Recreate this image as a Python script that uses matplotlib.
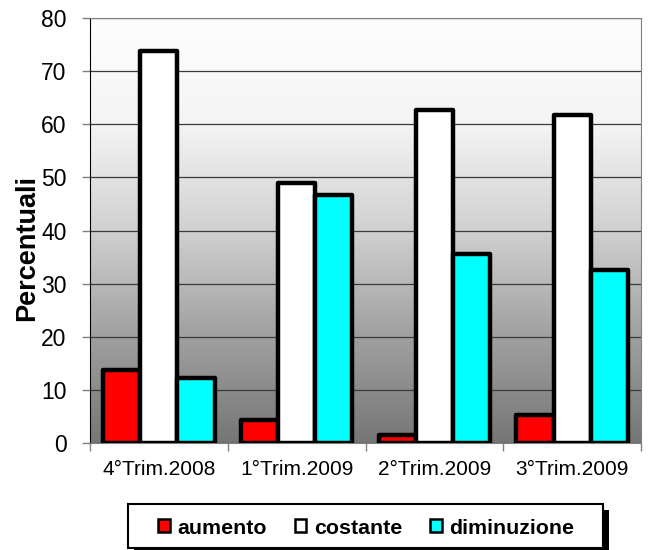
import numpy as np
import matplotlib
matplotlib.use("Agg")
import matplotlib.pyplot as plt
from matplotlib.patches import Patch, Rectangle
from matplotlib.colors import LinearSegmentedColormap

plt.rcParams['font.family'] = ['Liberation Sans', 'DejaVu Sans']

categories = ["4°Trim.2008", "1°Trim.2009", "2°Trim.2009", "3°Trim.2009"]
aumento = [13.7, 4.4, 1.6, 5.3]
costante = [73.8, 48.9, 62.7, 61.7]
diminuzione = [12.3, 46.6, 35.5, 32.6]
series_names = ["aumento", "costante", "diminuzione"]
colors = ["#ff0000", "#ffffff", "#00ffff"]

W, H = 656, 550
fig = plt.figure(figsize=(W/100, H/100), dpi=100)
ax = fig.add_axes([90/W, 1-443/H, 551/W, 425/H])

# gradient background
grad = np.linspace(0, 1, 256).reshape(-1, 1)
cmap = LinearSegmentedColormap.from_list("g", ["#fefefe", "#f4f4f4", "#d0d0d0", "#a0a0a0", "#767676"])
ax.imshow(grad, aspect='auto', cmap=cmap, extent=[0, 1, 0, 1], transform=ax.transAxes, zorder=0)

x = np.arange(len(categories))
w = 0.27
for i, (vals, c, name) in enumerate(zip([aumento, costante, diminuzione], colors, series_names)):
    ax.bar(x + (i - 1) * w, vals, width=w, color=c, edgecolor='black', linewidth=3.2, zorder=3,
           label=name, joinstyle='round')

ax.set_xlim(-0.5, len(categories) - 0.5)
ax.set_ylim(0, 80)
ax.set_yticks(np.arange(0, 81, 10))
ax.yaxis.grid(True, color='#3a3a3a', linewidth=0.9, zorder=1)
ax.set_axisbelow(True)
ax.set_xticks(x)
ax.set_xticklabels(categories, fontsize=15)
ax.tick_params(axis='x', length=0, pad=12)
ax.set_xticks(np.arange(-0.5, len(categories), 1), minor=True)
ax.tick_params(axis='x', which='minor', length=6, color='#808080', width=1)
ax.tick_params(axis='y', labelsize=16.5, length=6, width=1, color='#808080', pad=11)
for s in ['top', 'right']:
    ax.spines[s].set_color('#808080')
ax.spines['left'].set_color('black')
ax.spines['bottom'].set_color('#808080')
ax.set_ylabel("Percentuali", fontsize=19.5, fontweight='bold')
ax.yaxis.set_label_coords(-0.09, 0.458)

# legend frame with black shadow (drawn manually)
fig.patches.append(Rectangle((134/W, 1-554/H), 475/W, 44/H, transform=fig.transFigure,
                             facecolor='black', edgecolor='none', zorder=1))
fig.patches.append(Rectangle((128/W, 1-548/H), 475/W, 44/H, transform=fig.transFigure,
                             facecolor='white', edgecolor='black', linewidth=1.5, zorder=2))

handles = [Patch(facecolor=c, edgecolor='black', linewidth=1.8, label=n) for c, n in zip(colors, series_names)]
leg = fig.legend(handles=handles, loc='center', bbox_to_anchor=(366/W, 1-528/H), ncol=3,
                 frameon=False, prop={'weight': 'bold', 'size': 15.4},
                 handlelength=0.55, handleheight=0.55,
                 handletextpad=0.35, columnspacing=1.3, borderpad=0, borderaxespad=0)
leg.set_zorder(5)

fig.savefig("out.png", dpi=100)
